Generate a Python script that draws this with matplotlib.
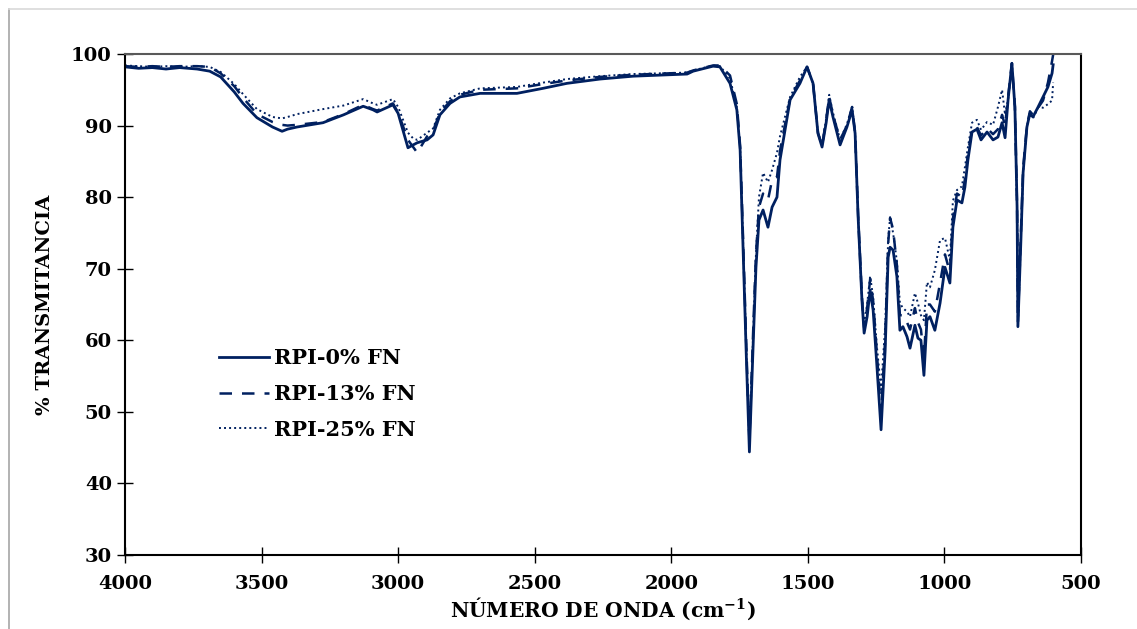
import matplotlib
matplotlib.use("Agg")
import matplotlib.pyplot as plt
from matplotlib.lines import Line2D

# wavenumber grid (cm-1), shared by the three spectra
wavenumber = [
    4000, 3950, 3900, 3850, 3800, 3736, 3690, 3650, 3600, 3568, 3517, 3460, 3425, 3405,
    3370, 3275, 3200, 3128, 3092, 3077, 3019, 3000, 2964, 2945, 2930, 2894, 2872,
    2847, 2810, 2774, 2700, 2565, 2470, 2382, 2261, 2140, 1942, 1920, 1847, 1822,
    1785, 1760, 1748, 1737, 1726, 1714, 1701, 1690, 1679, 1664, 1646, 1631, 1613,
    1602, 1565, 1529, 1503, 1481, 1463, 1448, 1433, 1422, 1408, 1382, 1357, 1338,
    1327, 1316, 1302, 1294, 1283, 1272, 1261, 1247, 1232, 1217, 1206, 1199, 1188,
    1174, 1163, 1152, 1137, 1126, 1108, 1097, 1086, 1075, 1064, 1053, 1035, 1016,
    998, 980, 969, 954, 936, 925, 914, 899, 881, 866, 844, 822, 804, 789, 778, 767,
    753, 742, 734, 731, 720, 712, 698, 687, 676, 657, 639, 621, 606, 602,
]

rpi_0 = [
    98.2, 98.0, 98.1, 97.9, 98.1, 97.9, 97.6, 96.8, 94.7, 93.1, 91.1, 89.8, 89.2, 89.5,
    89.8, 90.4, 91.5, 92.7, 92.2, 91.9, 92.9, 91.7, 86.9, 87.3, 87.6, 88.0, 88.7,
    91.5, 93.1, 94.0, 94.5, 94.5, 95.2, 95.9, 96.5, 96.9, 97.2, 97.6, 98.3, 98.2,
    95.9, 92.2, 86.6, 72.6, 58.6, 44.4, 58.6, 70.2, 76.8, 78.2, 75.8, 78.6, 80.0,
    85.2, 93.6, 95.9, 98.2, 95.9, 88.9, 87.0, 90.4, 93.6, 91.2, 87.3, 89.8, 92.2,
    88.9, 77.2, 65.6, 61.0, 63.3, 67.0, 64.2, 56.3, 47.5, 58.6, 71.6, 73.0, 72.6,
    68.9, 61.4, 61.9, 60.5, 58.9, 62.1, 60.3, 60.0, 55.1, 62.8, 63.3, 61.4, 65.2,
    70.2, 68.0, 75.8, 79.6, 79.2, 81.4, 85.2, 89.1, 89.5, 88.0, 89.1, 88.0, 88.4, 90.4, 88.3, 93.6,
    98.7, 92.6, 78.6, 61.9, 74.0, 83.4, 89.8, 91.7, 91.2, 92.6, 94.0, 95.4, 97.3, 98.5,
]

rpi_13 = [
    98.3, 98.2, 98.3, 98.2, 98.3, 98.3, 98.2, 97.3, 95.5, 93.9, 91.6, 90.5, 90.1, 90.0,
    90.1, 90.5, 91.6, 92.9, 92.3, 92.1, 93.1, 91.8, 88.0, 87.0, 86.2, 88.5, 89.3,
    91.8, 93.4, 94.3, 95.0, 95.2, 95.8, 96.3, 96.8, 97.1, 97.4, 97.7, 98.4, 98.4,
    97.0, 93.0, 87.2, 74.0, 60.0, 46.0, 60.5, 72.0, 78.6, 80.5, 79.6, 82.4, 82.8,
    86.5, 93.8, 96.3, 98.2, 95.9, 89.0, 87.2, 90.8, 94.0, 91.5, 88.0, 90.0, 92.6,
    89.0, 77.5, 66.0, 61.8, 64.5, 68.5, 65.5, 58.0, 49.8, 60.0, 73.5, 77.1, 75.5,
    70.5, 63.5, 63.5, 62.5, 61.5, 64.5, 62.5, 61.5, 57.5, 65.0, 65.0, 64.0, 68.0,
    72.0, 69.5, 77.0, 80.5, 80.0, 82.5, 86.0, 89.6, 89.8, 88.6, 89.6, 88.8, 89.5, 91.5, 90.0, 94.0,
    98.7, 92.6, 78.6, 62.5, 75.0, 84.0, 90.0, 92.0, 91.5, 92.5, 93.5, 96.0, 99.0, 99.9,
]

rpi_25 = [
    98.4, 98.3, 98.2, 98.3, 98.2, 98.3, 98.2, 97.5, 95.8, 94.4, 92.3, 91.2, 91.0, 91.2,
    91.6, 92.3, 92.8, 93.7, 93.1, 92.9, 93.7, 92.6, 89.0, 88.2, 88.0, 89.0, 89.6,
    92.2, 93.8, 94.5, 95.2, 95.4, 96.0, 96.5, 96.9, 97.2, 97.4, 97.7, 98.4, 98.3,
    96.6, 92.6, 87.0, 73.5, 59.5, 45.5, 60.0, 72.0, 80.0, 83.4, 82.1, 83.8, 86.2,
    88.5, 94.0, 96.8, 98.2, 95.9, 89.0, 87.2, 91.0, 94.3, 91.8, 88.0, 90.2, 92.6,
    89.0, 77.5, 66.0, 62.4, 65.0, 69.0, 66.0, 59.0, 53.1, 62.0, 74.0, 77.2, 75.0,
    71.0, 65.2, 64.5, 64.0, 63.3, 66.6, 65.2, 63.5, 62.8, 68.1, 67.4, 69.8, 74.0,
    74.3, 71.2, 79.5, 81.0, 81.5, 84.2, 87.0, 90.4, 90.8, 89.4, 90.5, 90.1, 92.6, 95.0, 91.5, 93.6,
    98.7, 92.6, 78.6, 62.0, 74.5, 83.5, 90.0, 91.5, 91.0, 92.5, 92.5, 93.0, 93.5, 96.0,
]

labels = ["RPI-0% FN", "RPI-13% FN", "RPI-25% FN"]
x_ticks = [4000, 3500, 3000, 2500, 2000, 1500, 1000, 500]
y_ticks = [30, 40, 50, 60, 70, 80, 90, 100]

navy = "#002060"
plt.rcParams["font.family"] = "DejaVu Serif"
plt.rcParams["font.weight"] = "bold"
plt.rcParams["mathtext.fontset"] = "dejavuserif"
plt.rcParams["mathtext.default"] = "bf"

fig = plt.figure(figsize=(11.37, 6.29), dpi=100)
ax = fig.add_axes([125 / 1137, 1 - 555 / 629, 956 / 1137, 501 / 629])

ax.plot(wavenumber, rpi_0, color=navy, lw=2.0, ls="-", label=labels[0])
ax.plot(wavenumber, rpi_13, color=navy, lw=1.8, ls=(0, (5, 4)), label=labels[1])
ax.plot(wavenumber, rpi_25, color=navy, lw=1.4, ls=(0, (1, 1.6)), label=labels[2])

ax.set_xlim(4000, 500)
ax.set_ylim(30, 100)
ax.set_xticks(x_ticks)
ax.set_yticks(y_ticks)
ax.tick_params(direction="inout", length=11, width=1.0, labelsize=14, pad=4)
ax.tick_params(axis="x", pad=9)
for lab in ax.get_xticklabels() + ax.get_yticklabels():
    lab.set_fontweight("bold")

for side in ["left", "bottom", "right"]:
    ax.spines[side].set_color("black")
    ax.spines[side].set_linewidth(1.5)
ax.spines["top"].set_color("#595959")
ax.spines["top"].set_linewidth(1.5)

ax.set_xlabel("NÚMERO DE ONDA (cm$^{-1}$)", fontsize=14.5, fontweight="bold", labelpad=2)
ax.set_ylabel("% TRANSMITANCIA", fontsize=14, fontweight="bold", labelpad=12)

ax.legend(loc="upper left", bbox_to_anchor=(0.079, 0.45), frameon=False,
          prop={"size": 15, "weight": "bold"}, handlelength=2.4,
          handletextpad=0.25, labelspacing=0.75)

# light outer chart border
fig.add_artist(Line2D([9 / 1137, 9 / 1137], [0, 1 - 9 / 629], color="#a6a6a6", lw=1.2))
fig.add_artist(Line2D([9 / 1137, 1], [1 - 9 / 629, 1 - 9 / 629], color="#d9d9d9", lw=1.2))

fig.savefig("out.png", dpi=100)
